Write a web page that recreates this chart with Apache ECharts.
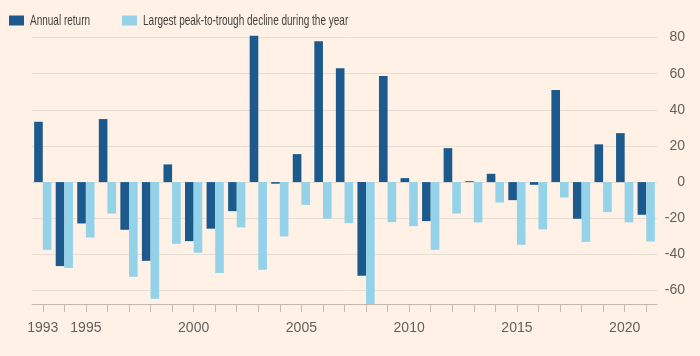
<!DOCTYPE html>
<html>
<head>
<meta charset="utf-8">
<script src="https://cdn.jsdelivr.net/npm/echarts@6/dist/echarts.min.js"></script>
<style>
html,body{margin:0;padding:0;background:#FFF1E5;}
#chart{width:700px;height:356px;}
</style>
</head>
<body>
<div id="chart"></div>
<script>
var years = ['1993','1994','1995','1996','1997','1998','1999','2000','2001','2002','2003','2004','2005','2006','2007','2008','2009','2010','2011','2012','2013','2014','2015','2016','2017','2018','2019','2020','2021'];
var annualReturn = [33.4,-46.5,-22.9,34.9,-26.4,-43.6,9.8,-32.7,-25.8,-16.1,81,-0.9,15.5,78.0,63.0,-51.9,58.7,2.2,-21.6,18.8,0.5,4.6,-10,-1.5,51.0,-20.3,20.9,27.1,-18.1];
var peakDecline = [-37.5,-47.5,-30.7,-17.4,-52.4,-64.6,-34.2,-39.1,-50.4,-25.1,-48.6,-30.1,-12.6,-20.3,-22.7,-68,-22.2,-24.4,-37.5,-17.4,-22.3,-11.3,-34.7,-26.2,-8.5,-33.1,-16.6,-22.3,-32.9];
var shownYears = ['1993','1995','2000','2005','2010','2015','2020'];
var yTicks = [-60,-40,-20,0,20,40,60,80];
var seriesNames = ['Annual return','Largest peak-to-trough decline during the year'];
var seriesColors = ['#1c5a8d','#93d2e8'];

var chart = echarts.init(document.getElementById('chart'));
var txt = '#66605C';
function legendItem(x, i) {
  return {
    type: 'group', left: x, top: 13,
    children: [
      {type: 'rect', shape: {x: 0, y: 0, width: 15, height: 10}, style: {fill: seriesColors[i]}},
      {type: 'text', x: 21, y: 5, scaleX: 0.667,
       style: {text: seriesNames[i], fill: '#45403d', font: '15px "Liberation Sans", Arial, sans-serif', verticalAlign: 'middle', textAlign: 'left'}}
    ]
  };
}
chart.setOption({
  backgroundColor: '#FFF1E5',
  animation: false,
  textStyle: {fontFamily: 'Liberation Sans, Arial, sans-serif'},
  legend: {show: false, data: seriesNames},
  graphic: [legendItem(9, 0), legendItem(122, 1)],
  grid: {left: 32, right: 43, top: 34, bottom: 52, containLabel: false},
  xAxis: {
    type: 'category',
    data: years,
    axisLine: {show: true, onZero: false, lineStyle: {color: '#c4bab1', width: 1}},
    axisTick: {show: true, alignWithLabel: true, interval: 0, length: 8, lineStyle: {color: '#c4bab1', width: 1}},
    axisLabel: {
      color: txt, fontSize: 14, margin: 17, interval: 0, hideOverlap: false,
      formatter: function (v) { return shownYears.indexOf(v) >= 0 ? v : ''; }
    }
  },
  yAxis: {
    type: 'value',
    position: 'right',
    min: -67.5, max: 82,
    axisLine: {show: false},
    axisTick: {show: false, customValues: yTicks},
    splitLine: {lineStyle: {color: '#e9ded4', width: 1}},
    axisLabel: {
      color: txt, fontSize: 14, align: 'right', margin: 28,
      customValues: yTicks
    }
  },
  series: [
    {name: seriesNames[0], type: 'bar', data: annualReturn, barGap: '0%', barCategoryGap: '20%',
     itemStyle: {color: seriesColors[0]}},
    {name: seriesNames[1], type: 'bar', data: peakDecline, barGap: '0%', barCategoryGap: '20%',
     itemStyle: {color: seriesColors[1]}}
  ]
});
</script>
</body>
</html>
